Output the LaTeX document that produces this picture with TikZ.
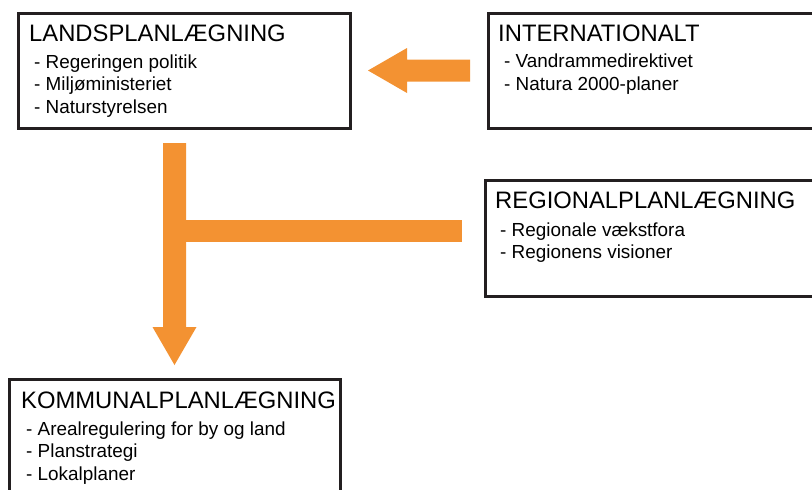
\documentclass[tikz,border=0pt]{standalone}
\usepackage{fontspec}
\setmainfont{Liberation Sans}
\usetikzlibrary{calc}
\definecolor{planorange}{RGB}{243,146,50}
\definecolor{boxline}{RGB}{35,31,32}
\tikzset{
  planbox/.style={draw=boxline, line width=3pt, fill=white, rectangle,
    inner sep=0pt, outer sep=0pt, anchor=north west},
  boxtitle/.style={anchor=base west, inner sep=0pt,
    font=\fontsize{23.8}{28}\selectfont, text=black},
  boxitem/.style={anchor=base west, inner sep=0pt,
    font=\fontsize{18.9}{22}\selectfont, text=black},
  flow/.style={fill=planorange, draw=none}
}
\begin{document}
\begin{tikzpicture}[x=1pt, y=-1pt]
\useasboundingbox (0,0) rectangle (812,490);
\clip (0,0) rectangle (812,490);

% boxes
\node[planbox, minimum width=332pt, minimum height=115pt] (lands) at (18,13) {};
\node[planbox, minimum width=340pt, minimum height=115pt] (intl) at (488,13) {};
\node[planbox, minimum width=340pt, minimum height=116pt] (reg) at (485,180) {};
\node[planbox, minimum width=331pt, minimum height=140pt] (komm) at (9,379) {};

% titles
\node[boxtitle] (lands-t) at ($(lands.north west)+(11,28.5)$) {LANDSPLANLÆGNING};
\node[boxtitle] (intl-t) at ($(intl.north west)+(10,28)$) {INTERNATIONALT};
\node[boxtitle] (reg-t) at ($(reg.north west)+(10,28.5)$) {REGIONALPLANLÆGNING};
\node[boxtitle] (komm-t) at ($(komm.north west)+(12,29)$) {KOMMUNALPLANLÆGNING};

% list items
\foreach \t [count=\i] in {Regeringen politik, Miljøministeriet, Naturstyrelsen}
  \node[boxitem] (lands-\i) at ($(lands.north west)+(16,32.5+22.5*\i)$) {- \t};
\foreach \t [count=\i] in {Vandrammedirektivet, Natura 2000-planer}
  \node[boxitem] (intl-\i) at ($(intl.north west)+(16,31+23*\i)$) {- \t};
\foreach \t [count=\i] in {Regionale vækstfora, Regionens visioner}
  \node[boxitem] (reg-\i) at ($(reg.north west)+(15,34+22*\i)$) {- \t};
\foreach \t [count=\i] in {Arealregulering for by og land, Planstrategi, Lokalplaner}
  \node[boxitem] (komm-\i) at ($(komm.north west)+(17,33.5+22.5*\i)$) {- \t};

% international -> national arrow
\coordinate (ia) at ([xshift=-18pt]intl.west);
\coordinate (ib) at ([xshift=18pt]lands.east);
\fill[flow] (ib) -- ($(ib)+(39,-22.5)$) -- ($(ib)+(39,-11)$) -- ($(ia)+(0,-11)$)
  -- ($(ia)+(0,11)$) -- ($(ib)+(39,11)$) -- ($(ib)+(39,22.5)$) -- cycle;

% national -> municipal arrow
\coordinate (va) at ([xshift=-9.5pt,yshift=-15pt]lands.south);
\coordinate (vb) at ([yshift=14pt]komm.north -| va);
\fill[flow] ($(va)+(-11.5,0)$) -- ($(va)+(11.5,0)$) -- ($(vb)+(11.5,-38)$)
  -- ($(vb)+(22,-38)$) -- (vb) -- ($(vb)+(-22,-38)$) -- ($(vb)+(-11.5,-38)$) -- cycle;

% regional branch joining the vertical flow
\coordinate (ra) at ([xshift=-23pt,yshift=7pt]reg.west);
\fill[flow] ($(ra)+(0,-11)$) rectangle ($(ra -| va)+(0,11)$);
\end{tikzpicture}
\end{document}
